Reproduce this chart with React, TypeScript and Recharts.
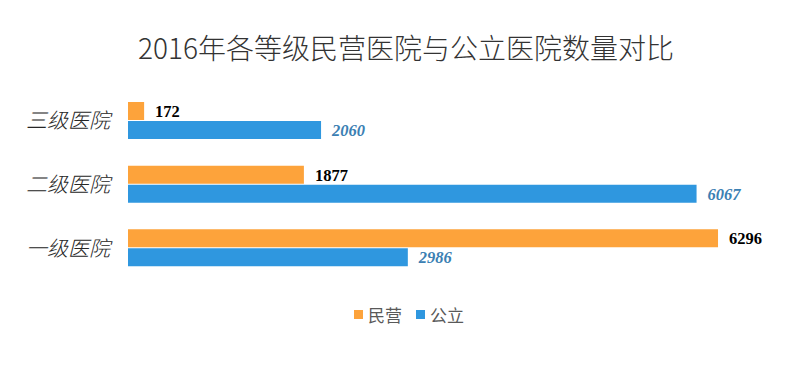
import React from "react";
import { BarChart, Bar, XAxis, YAxis, LabelList } from "recharts";

const categories = ["三级医院", "二级医院", "一级医院"];
const privateValues = [172, 1877, 6296];
const publicValues = [2060, 6067, 2986];
const seriesNames = ["民营", "公立"];
const title = "2016年各等级民营医院与公立医院数量对比";

const ORANGE = "#fda33b";
const BLUE = "#2f97df";

const data = categories.map((c, i) => ({
  name: c,
  private: privateValues[i],
  public: publicValues[i],
}));

const CJK = '"Noto Sans CJK SC", "Noto Sans", sans-serif';
const SERIF = '"Liberation Serif", "Times New Roman", serif';

export default function App() {
  return (
    <div style={{ position: "relative", width: 794, height: 350, background: "#fff" }}>
      <div
        style={{
          position: "absolute",
          top: 21,
          left: 0,
          width: 796,
          textAlign: "center",
          fontFamily: CJK,
          fontWeight: 300,
          fontSize: 28,
          color: "#333",
          lineHeight: "36px",
        }}
      >
        {title}
      </div>
      <BarChart
        width={794}
        height={350}
        data={data}
        layout="vertical"
        margin={{ top: 81, right: 18, bottom: 78, left: 0 }}
        barSize={18}
        barGap={1}
      >
        <XAxis type="number" domain={[0, 7000]} hide />
        <YAxis
          type="category"
          dataKey="name"
          width={120}
          axisLine={false}
          tickLine={false}
          tickSize={0}
          tickMargin={18}
          tick={{ fill: "#262626", fontSize: 21, fontStyle: "italic", fontFamily: CJK, fontWeight: 300 }}
        />
        <Bar dataKey="private" name={seriesNames[0]} fill={ORANGE} isAnimationActive={false}>
          <LabelList
            dataKey="private"
            position="right"
            offset={11}
            style={{ fill: "#000", fontFamily: SERIF, fontWeight: 700, fontSize: 16.5 }}
          />
        </Bar>
        <Bar dataKey="public" name={seriesNames[1]} fill={BLUE} isAnimationActive={false}>
          <LabelList
            dataKey="public"
            position="right"
            offset={11}
            style={{ fill: "#3b80b3", fontFamily: SERIF, fontWeight: 700, fontStyle: "italic", fontSize: 16.5 }}
          />
        </Bar>
      </BarChart>
      <div
        style={{
          position: "absolute",
          top: 294,
          left: 0,
          width: 794,
          display: "flex",
          justifyContent: "center",
          fontFamily: CJK,
          fontSize: 17,
          color: "#595959",
          gap: 14,
          paddingLeft: 8,
          boxSizing: "border-box",
        }}
      >
        {seriesNames.map((n, i) => (
          <div key={n} style={{ display: "flex", alignItems: "center" }}>
            <span
              style={{
                display: "inline-block",
                width: 9,
                height: 9,
                background: i === 0 ? ORANGE : BLUE,
                marginRight: 5,
              }}
            />
            <span>{n}</span>
          </div>
        ))}
      </div>
    </div>
  );
}
